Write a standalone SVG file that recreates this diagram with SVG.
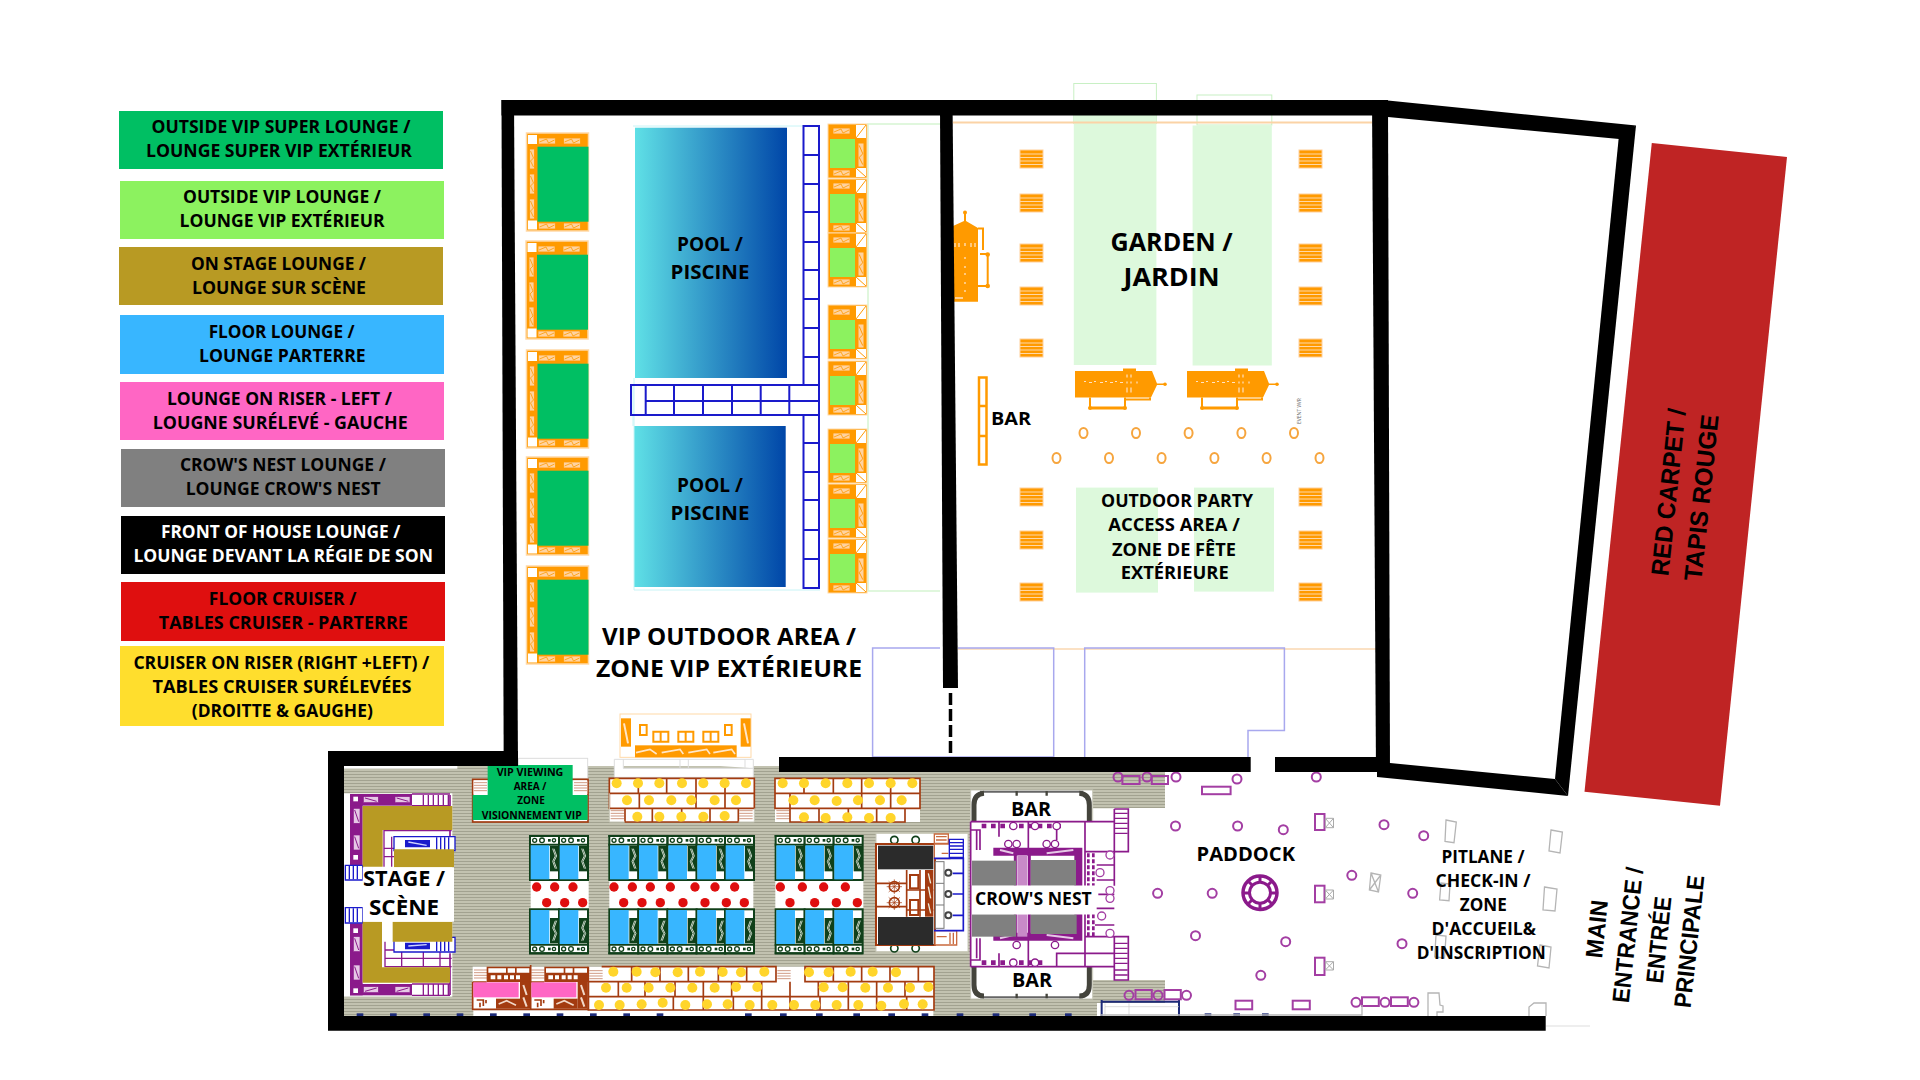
<svg xmlns="http://www.w3.org/2000/svg" xmlns:xlink="http://www.w3.org/1999/xlink" width="1920" height="1080" viewBox="0 0 1920 1080">
<style>
text{font-family:"Open Sans","Noto Sans",sans-serif;font-weight:700;fill:#000;text-anchor:middle}
.lg{font-size:18px}
.w{fill:#fff}
.rot{font-family:"Liberation Sans",Arial,sans-serif;font-weight:700}
.wall{fill:#000}
.o{fill:#ff9a00}
.z{fill:#ffd3a0;stroke:#ff9a00;stroke-width:.8}
.oc{fill:none;stroke:#f6a53e;stroke-width:2}
.pc{fill:none;stroke:#a33ea3;stroke-width:2}
.pr{fill:none;stroke:#a33ea3;stroke-width:2}
.br{fill:none;stroke:#a33b10;stroke-width:5}
.pu{fill:none;stroke:#8b1a8b;stroke-width:5}
.y{fill:#ffd52b}
.r{fill:#df0f0f}
.nv{fill:#1c2a78}
.ph{fill:#e6c8e6;stroke:#8b1a8b;stroke-width:2}
</style>
<defs>
<linearGradient id="pool" x1="0" x2="1" y1="0" y2="0"><stop offset="0" stop-color="#5fe0e6"/><stop offset="1" stop-color="#0046a8"/></linearGradient>
<pattern id="carpet" width="4" height="3" patternUnits="userSpaceOnUse"><rect width="4" height="3" fill="#c2c2b0"/><rect y="0" width="4" height="1" fill="#a2a290"/></pattern>
<g id="hz"><rect width="17" height="6" class="z"/><path d="M1 4L8 1L10 5L16 2" fill="none" stroke="#ff9a00" stroke-width=".8"/></g>
<g id="hv"><rect width="5" height="20" class="z"/><path d="M1 2L4 9L1 12L4 18" fill="none" stroke="#ff9a00" stroke-width=".8"/></g>
<g id="ul">
<rect x="0" y="0" width="62" height="98" class="o" stroke="#ffd9a8" stroke-width="1.5"/>
<rect x="1.500" y="2" width="9" height="9" fill="#fff"/><rect x="1.500" y="87.500" width="9" height="9" fill="#fff"/>
<use href="#hz" x="12" y="5"/><use href="#hz" x="37" y="5"/><use href="#hz" x="12" y="90"/><use href="#hz" x="37" y="90"/>
<use href="#hv" x="3" y="16"/><use href="#hv" x="3" y="41"/><use href="#hv" x="3" y="66"/>
<rect x="11" y="13.700" width="51" height="75" fill="#00bf63"/>
</g>
<g id="ur">
<rect x="0" y="0" width="39" height="54" class="o" stroke="#ffd9a8" stroke-width="1"/>
<rect x="28" y="1" width="10" height="13" fill="#fff"/><path d="M28 14L38 1" stroke="#ff9a00"/>
<rect x="28" y="44" width="10" height="9" fill="#fff"/><path d="M28 44L38 53" stroke="#ff9a00"/>
<use href="#hz" x="5" y="4"/><use href="#hz" x="5" y="46"/>
<use href="#hv" transform="translate(30 19) scale(1.2)"/>
<rect x="2" y="15" width="25" height="29" fill="#8cf25f"/>
</g>
<g id="bench"><rect width="23" height="18" class="o" stroke="#ffcf9a" stroke-width="1"/><path d="M0 4H23M0 7.500H23M0 11H23M0 14.500H23" stroke="#ffd8a8" stroke-width="1"/></g>
<g id="hb">
<path d="M1 2.500H49V0H62V2.500H78L83 15H91V16.500H83L77 29H1Z" class="o"/>
<circle cx="91" cy="15.700" r="1.800" class="o"/>
<path d="M10 13h2M15 14h3M20 13h2M26 14h3M31 13h2M36 14h3M41 13h2M46 14h3M53 6v3M57 6v3M53 13v2M57 13v2M53 19v5M57 19v5M63 13v2" stroke="#ffe2c2" stroke-width="1.200"/>
<path d="M16 29V39.500H51V29M51 31H76V29" fill="none" stroke="#ff9a00" stroke-width="2"/><path d="M16 39.500H51" stroke="#ff9a00" stroke-width="3"/>
<circle cx="16" cy="39.500" r="2" class="o"/><circle cx="51" cy="39.500" r="2" class="o"/>
</g>
<g id="fl">
<rect x="0" y="0" width="87" height="132" fill="#fff" stroke="#10401a" stroke-width="6"/>
<path d="M-3 0H87M-3 26H87" stroke="#10401a" stroke-width="6" fill="none"/>
<circle cx="14" cy="13" r="6" fill="none" stroke="#10401a" stroke-width="4"/><circle cx="36" cy="13" r="7" fill="none" stroke="#10401a" stroke-width="4"/><rect x="54" y="9" width="8" height="8" fill="#10401a"/><circle cx="72" cy="13" r="5" fill="none" stroke="#10401a" stroke-width="4"/>
<rect x="60" y="30" width="26" height="76" fill="#10401a"/><path d="M68 38L76 60L68 76L76 98M72 38L80 60L72 76L80 98" stroke="#c5d2c5" stroke-width="3" fill="none"/>
<rect x="2" y="28" width="56" height="102" fill="#38b6ff"/>
</g>
<g id="hatch"><rect width="40" height="40" fill="#fff"/><path d="M0 6H40M0 14H40M0 22H40M0 30H40" stroke="#d09a84" stroke-width="3"/></g>
<g id="riser">
<rect x="0" y="0" width="132" height="46" fill="#a33b10"/>
<path d="M5 5H58V18H5ZM63 5H85V18H63ZM90 5H128V18H90ZM12 26H26V38H12ZM32 26H44V38H32ZM52 26H64V38H52ZM70 26H82V38H70ZM88 26H100V38H88Z" fill="#fff"/>
<rect x="100" y="46" width="30" height="80" fill="#a33b10"/><path d="M110 55L120 85M110 92L120 120" stroke="#f2d8c8" stroke-width="6"/>
<rect x="28" y="96" width="72" height="30" fill="#a33b10"/><path d="M36 112L60 102L88 116" stroke="#f2d8c8" stroke-width="5" fill="none"/>
<path d="M-30 100H-10V118M-20 108V122M-2 100V110" stroke="#a33b10" stroke-width="5" fill="none"/>
</g>
</defs>
<rect width="1920" height="1080" fill="#fff"/>

<g id="legend">
<g id="lg1"><rect x="119" y="111" width="324" height="58" fill="#00bf63"/><text class="lg" x="281" y="133" textLength="259" lengthAdjust="spacingAndGlyphs">OUTSIDE VIP SUPER LOUNGE /</text><text class="lg" x="279" y="157" textLength="266" lengthAdjust="spacingAndGlyphs">LOUNGE SUPER VIP EXTÉRIEUR</text></g>
<g id="lg2"><rect x="120" y="181" width="324" height="58" fill="#8cf25f"/><text class="lg" x="282" y="203" textLength="198" lengthAdjust="spacingAndGlyphs">OUTSIDE VIP LOUNGE /</text><text class="lg" x="282" y="227" textLength="205" lengthAdjust="spacingAndGlyphs">LOUNGE VIP EXTÉRIEUR</text></g>
<g id="lg3"><rect x="119" y="247" width="324" height="58" fill="#b89a23"/><text class="lg" x="278.500" y="270" textLength="175" lengthAdjust="spacingAndGlyphs">ON STAGE LOUNGE /</text><text class="lg" x="279" y="294" textLength="174" lengthAdjust="spacingAndGlyphs">LOUNGE SUR SCÈNE</text></g>
<g id="lg4"><rect x="120" y="315" width="324" height="59" fill="#38b6ff"/><text class="lg" x="281.700" y="338" textLength="146" lengthAdjust="spacingAndGlyphs">FLOOR LOUNGE /</text><text class="lg" x="282.300" y="362" textLength="166.600" lengthAdjust="spacingAndGlyphs">LOUNGE PARTERRE</text></g>
<g id="lg5"><rect x="120" y="382" width="324" height="58" fill="#ff66c4"/><text class="lg" x="279.500" y="405" textLength="225" lengthAdjust="spacingAndGlyphs">LOUNGE ON RISER - LEFT /</text><text class="lg" x="280.200" y="429" textLength="255" lengthAdjust="spacingAndGlyphs">LOUGNE SURÉLEVÉ - GAUCHE</text></g>
<g id="lg6"><rect x="121" y="449" width="324" height="58" fill="#808080"/><text class="lg" x="282.900" y="471" textLength="206" lengthAdjust="spacingAndGlyphs">CROW'S NEST LOUNGE /</text><text class="lg" x="283.200" y="495" textLength="195" lengthAdjust="spacingAndGlyphs">LOUNGE CROW'S NEST</text></g>
<g id="lg7"><rect x="121" y="516" width="324" height="58" fill="#000"/><text class="lg w" x="280.700" y="538" textLength="239.500" lengthAdjust="spacingAndGlyphs">FRONT OF HOUSE LOUNGE /</text><text class="lg w" x="283.200" y="562" textLength="299.500" lengthAdjust="spacingAndGlyphs">LOUNGE DEVANT LA RÉGIE DE SON</text></g>
<g id="lg8"><rect x="121" y="582" width="324" height="59" fill="#df0f0f"/><text class="lg" x="282.600" y="605" textLength="147.600" lengthAdjust="spacingAndGlyphs">FLOOR CRUISER /</text><text class="lg" x="283.300" y="629" textLength="249" lengthAdjust="spacingAndGlyphs">TABLES CRUISER - PARTERRE</text></g>
<g id="lg9"><rect x="120" y="646" width="324" height="80" fill="#ffde2d"/><text class="lg" x="281.400" y="669" textLength="296" lengthAdjust="spacingAndGlyphs">CRUISER ON RISER (RIGHT +LEFT) /</text><text class="lg" x="282" y="693" textLength="259" lengthAdjust="spacingAndGlyphs">TABLES CRUISER SURÉLEVÉES</text><text class="lg" x="282.300" y="717" textLength="181" lengthAdjust="spacingAndGlyphs">(DROITTE &amp; GAUGHE)</text></g>
</g>

<g id="garden-ground">
<rect x="1073.800" y="83.500" width="82.600" height="40" fill="none" stroke="#c8f0c4" stroke-width="1"/>
<rect x="1197" y="95" width="74.800" height="30" fill="none" stroke="#c8f0c4" stroke-width="1"/>
<rect x="1073.800" y="115" width="82.600" height="250" fill="#ddf9dc"/>
<rect x="1192.600" y="125.500" width="79.200" height="240" fill="#ddf9dc"/>
<rect x="1076" y="487.600" width="82" height="105" fill="#ddf9dc"/>
<rect x="1194" y="487.600" width="80" height="104" fill="#ddf9dc"/>
<path d="M953 122.500H1372" stroke="#fbd3a6" stroke-width="2"/>
<path d="M958 649H1376" stroke="#f8c48a" stroke-width="1.200"/>
<path d="M872.600 757V648H940M958 648H1053.700V757H872.600M1084.700 757V648H1284.400V730.500H1248V757" fill="none" stroke="#a8a8ee" stroke-width="1.500"/>
<path d="M940 124H868V591H940" fill="none" stroke="#d6f5d2" stroke-width="1.500"/>
<path d="M633 126H820M633 385V426M634 378V590H820" fill="none" stroke="#c8f4f6" stroke-width="1"/>
</g>

<g id="pools">
<g id="pool-1"><rect x="635" y="127.700" width="152" height="250.300" fill="url(#pool)"/><text x="710" y="251" font-size="20" textLength="66" lengthAdjust="spacingAndGlyphs">POOL /</text><text x="710" y="279" font-size="20" textLength="79" lengthAdjust="spacingAndGlyphs">PISCINE</text></g>
<g id="pool-2"><rect x="634.400" y="426" width="151.300" height="161" fill="url(#pool)"/><text x="710" y="492" font-size="20" textLength="66" lengthAdjust="spacingAndGlyphs">POOL /</text><text x="710" y="520" font-size="20" textLength="79" lengthAdjust="spacingAndGlyphs">PISCINE</text></g>
<path id="walkway" d="M803.500 385V126H819V415M803.500 415V588H819V415M803.500 155H819M803.500 184H819M803.500 212H819M803.500 242H819M803.500 270H819M803.500 299H819M803.500 328H819M803.500 357H819M803.500 443H819M803.500 472H819M803.500 500H819M803.500 530H819M803.500 559H819M631 385H819V415H631ZM645.700 385V415M674 385V415M703 385V415M732 385V415M760.700 385V415M789.300 385V415M645.700 401H819" fill="none" stroke="#1a1acb" stroke-width="2"/>
</g>

<g id="super-lounges">
<use href="#ul" x="526.500" y="133"/><use href="#ul" x="526" y="241"/><use href="#ul" x="526.500" y="350"/><use href="#ul" x="526.500" y="457"/><use href="#ul" x="526.500" y="566"/>
</g>
<g id="vip-lounges">
<use href="#ur" x="828" y="124"/><use href="#ur" x="828" y="179"/><use href="#ur" x="828" y="233"/>
<use href="#ur" x="828" y="305"/><use href="#ur" x="828" y="361"/>
<use href="#ur" x="828" y="429"/><use href="#ur" x="828" y="484"/><use href="#ur" x="828" y="539"/>
</g>

<g id="garden-furniture">
<use href="#bench" x="1020" y="150"/><use href="#bench" x="1020" y="194"/><use href="#bench" x="1020" y="244"/><use href="#bench" x="1020" y="287"/><use href="#bench" x="1020" y="339"/><use href="#bench" x="1020" y="488"/><use href="#bench" x="1020" y="531"/><use href="#bench" x="1020" y="583"/>
<use href="#bench" x="1299" y="150"/><use href="#bench" x="1299" y="194"/><use href="#bench" x="1299" y="244"/><use href="#bench" x="1299" y="287"/><use href="#bench" x="1299" y="339"/><use href="#bench" x="1299" y="488"/><use href="#bench" x="1299" y="531"/><use href="#bench" x="1299" y="583"/>
<g>
<ellipse class="oc" cx="1083.500" cy="433" rx="4" ry="5"/><ellipse class="oc" cx="1136" cy="433" rx="4" ry="5"/><ellipse class="oc" cx="1188.600" cy="433" rx="4" ry="5"/><ellipse class="oc" cx="1241.400" cy="433" rx="4" ry="5"/><ellipse class="oc" cx="1294" cy="433" rx="4" ry="5"/>
<ellipse class="oc" cx="1056.500" cy="458" rx="4" ry="5"/><ellipse class="oc" cx="1109" cy="458" rx="4" ry="5"/><ellipse class="oc" cx="1161.600" cy="458" rx="4" ry="5"/><ellipse class="oc" cx="1214.400" cy="458" rx="4" ry="5"/><ellipse class="oc" cx="1266.600" cy="458" rx="4" ry="5"/><ellipse class="oc" cx="1319.500" cy="458" rx="4" ry="5"/>
</g>
<use href="#hb" x="1074" y="368.500"/><use href="#hb" x="1186" y="368.500"/>
<g id="tower"><path d="M953 226L964 221V213H966V221L978 228V301.700H953Z" class="o"/><circle cx="965" cy="212.500" r="2" class="o"/><path d="M965 257v2M965 266v2M965 273v2M965 282v2M965 290v2M955 243v4M959 243v4M965 243v3M971 243v4M975 243v4M955 298h8" stroke="#ffe2c2" stroke-width="1.300"/><path d="M978 228.500H983V250M980 254H987.700V286H978" fill="none" stroke="#ff9a00" stroke-width="2"/><circle cx="987.700" cy="254.500" r="2.300" class="o"/><circle cx="987.700" cy="286" r="2.300" class="o"/></g>
<g id="bar-garden"><rect x="979" y="377.500" width="7.500" height="87" fill="#fff" stroke="#ff9a00" stroke-width="2.500"/><path d="M979 406H987M979 436H987" stroke="#ff9a00" stroke-width="2.500"/><text x="1011" y="425" font-size="18" textLength="40" lengthAdjust="spacingAndGlyphs">BAR</text></g>
<text x="1301" y="411" font-size="5" transform="rotate(-90 1301 411)" style="fill:#666;font-weight:400">EVENT  W/R</text>
</g>

<g id="labels-outdoor">
<text x="729" y="645" font-size="24" textLength="254" lengthAdjust="spacingAndGlyphs">VIP OUTDOOR AREA /</text>
<text x="729" y="677" font-size="24" textLength="266" lengthAdjust="spacingAndGlyphs">ZONE VIP EXTÉRIEURE</text>
<text x="1171.600" y="251" font-size="25" textLength="122" lengthAdjust="spacingAndGlyphs">GARDEN /</text>
<text x="1171.600" y="286" font-size="25" textLength="96" lengthAdjust="spacingAndGlyphs">JARDIN</text>
<text x="1177" y="506.500" font-size="18" textLength="152" lengthAdjust="spacingAndGlyphs">OUTDOOR PARTY</text>
<text x="1174" y="531" font-size="18" textLength="131.500" lengthAdjust="spacingAndGlyphs">ACCESS AREA /</text>
<text x="1174" y="555.500" font-size="18" textLength="124" lengthAdjust="spacingAndGlyphs">ZONE DE FÊTE</text>
<text x="1174.700" y="579" font-size="18" textLength="108" lengthAdjust="spacingAndGlyphs">EXTÉRIEURE</text>
</g>

<g id="hall">
<path id="hall-floor" d="M344 766H1165V808H1114V980H1165V1003H1097V1016H344Z" fill="url(#carpet)"/>
<g id="hall-plan" transform="translate(320 740) scale(.33333)">
<g id="stage">
<rect x="72" y="160" width="325" height="610" fill="#fff"/>
<rect x="72" y="78" width="340" height="8" fill="#fff"/>
<path d="M390 165V290M390 640V765" class="pu"/>
<rect x="90" y="162" width="38" height="216" fill="#8b1a8b"/><rect x="90" y="162" width="186" height="35" fill="#8b1a8b"/>
<rect x="90" y="550" width="38" height="216" fill="#8b1a8b"/><rect x="90" y="732" width="186" height="34" fill="#8b1a8b"/>
<rect class="ph" x="130" y="170" width="45" height="18"/><rect class="ph" x="225" y="170" width="45" height="18"/><rect class="ph" x="100" y="205" width="20" height="45"/><rect class="ph" x="100" y="285" width="20" height="45"/><rect class="ph" x="130" y="740" width="45" height="18"/><rect class="ph" x="225" y="740" width="45" height="18"/><rect class="ph" x="100" y="590" width="20" height="45"/><rect class="ph" x="100" y="675" width="20" height="45"/>
<path d="M135 174L170 184M230 174L265 184M135 754L170 744M230 754L265 744M104 210L116 245M104 290L116 325M104 595L116 630M104 680L116 715" stroke="#8b1a8b" stroke-width="3"/>
<rect x="100" y="170" width="14" height="14" fill="#fff"/><rect x="100" y="345" width="14" height="14" fill="#fff"/><rect x="100" y="745" width="14" height="14" fill="#fff"/><rect x="100" y="565" width="14" height="14" fill="#fff"/>
<path d="M276 162H390M276 197H390M276 732H390M276 766H390M310 165V197M325 165V197M340 165V197M355 165V197M370 165V197M385 165V197M310 730V765M325 730V765M340 730V765M355 730V765M370 730V765M385 730V765" stroke="#8b1a8b" stroke-width="4"/>
<path d="M192 380V272H395M215 290V380M192 325H222M192 350H222M195 605V680H395M195 630H395M195 655H395M245 630V680M310 630V680M360 630V680" fill="none" stroke="#8b1a8b" stroke-width="4"/>
<path d="M222 290H405V332H222ZM222 592H405V636H222Z" fill="#fff" stroke="#1a1acb" stroke-width="4"/>
<path d="M255 300H330V322H255ZM255 608H330V628H255Z" fill="#1a1acb"/>
<path d="M265 306L320 316M265 618L320 614" stroke="#cfd2ff" stroke-width="4"/>
<path d="M350 292V330M362 292V330M374 292V330M386 292V330M350 594V634M362 594V634M374 594V634M386 594V634" stroke="#1a1acb" stroke-width="4"/>
<path d="M76 376H128V420H76ZM76 503H128V549H76Z" fill="#fff" stroke="#1a1acb" stroke-width="4"/>
<path d="M88 378V418M100 378V418M112 378V418M88 505V547M100 505V547M112 505V547" stroke="#1a1acb" stroke-width="4"/>
<path d="M128 198H397V270H188V380H128ZM222 328H402V382H222ZM218 545H397V605H218ZM128 545H186V682H390V728H128Z" fill="#b89a23"/>
<rect x="128" y="382" width="274" height="163" fill="#fff"/>
</g>
<g id="vip-viewing">
<rect x="595" y="55" width="208" height="60" fill="#fff" stroke="#ddd" stroke-width="3"/>
<rect x="458" y="118" width="346" height="128" fill="#fff" stroke="#a33b10" stroke-width="5"/>
<use href="#hatch" x="461" y="122"/><use href="#hatch" x="762" y="122"/>
<path d="M503 75H758V165H803V240H458V165H503Z" fill="#00bf63"/>
</g>
<g id="orange-stage">
<rect x="900" y="-78" width="393" height="130" fill="#fff" stroke="#ffd9a8" stroke-width="3"/>
<rect x="945" y="16" width="305" height="36" fill="#ff9a00"/>
<path d="M948 38L990 28L1010 42M1025 38L1080 28L1090 42M1105 38L1160 28L1170 42M1180 38L1235 28L1245 42" fill="none" stroke="#ffe6c8" stroke-width="5"/>
<rect x="903" y="-65" width="30" height="85" fill="#ff9a00"/><rect x="1262" y="-65" width="30" height="85" fill="#ff9a00"/>
<path d="M912 -50L924 10M1272 -50L1284 10" stroke="#ffe6c8" stroke-width="6"/>
<rect x="960" y="-45" width="20" height="30" fill="#fff" stroke="#ff9a00" stroke-width="6"/><rect x="1215" y="-45" width="20" height="30" fill="#fff" stroke="#ff9a00" stroke-width="6"/>
<path d="M1000 -25H1045V5H1000ZM1075 -25H1120V5H1075ZM1150 -25H1195V5H1150ZM1022 -25V5M1097 -25V5M1172 -25V5" fill="#fff" stroke="#ff9a00" stroke-width="6"/>
<path d="M883 58H1300V112H883ZM910 58V85H1300M1080 58V85M1105 58V85M1275 58V85" fill="#fff" stroke="#ddd" stroke-width="3"/>
</g>
<g id="cruiser-top-1">
<rect x="868" y="115" width="435" height="131" fill="#fff"/>
<use href="#hatch" x="872" y="206"/><use href="#hatch" x="1258" y="206"/>
<path class="br" d="M868 160V115H1303V205H868V160H1303M955 115V160M1040 115V160M1128 115V205M1215 115V205M958 160V205M915 205V246H1255V205M997 205V246M1085 205V246M1170 205V246"/>
<path d="M868 160V246H915M1303 205V246H1255" fill="none" stroke="#c8c8b8" stroke-width="3"/>
<circle class="y" cx="890" cy="130" r="15"/><circle class="y" cx="954" cy="130" r="15"/><circle class="y" cx="1018" cy="130" r="15"/><circle class="y" cx="1086" cy="130" r="15"/><circle class="y" cx="1150" cy="130" r="15"/><circle class="y" cx="1214" cy="130" r="15"/><circle class="y" cx="1278" cy="130" r="15"/>
<circle class="y" cx="921" cy="181" r="15"/><circle class="y" cx="987" cy="181" r="15"/><circle class="y" cx="1054" cy="181" r="15"/><circle class="y" cx="1114" cy="181" r="15"/><circle class="y" cx="1184" cy="181" r="15"/><circle class="y" cx="1248" cy="181" r="15"/>
<circle class="y" cx="952" cy="230" r="15"/><circle class="y" cx="1018" cy="230" r="15"/><circle class="y" cx="1084" cy="230" r="15"/><circle class="y" cx="1150" cy="230" r="15"/><circle class="y" cx="1214" cy="228" r="15"/>
</g>
<g id="cruiser-top-2">
<rect x="1365" y="115" width="435" height="131" fill="#fff"/>
<use href="#hatch" x="1369" y="206"/>
<path class="br" d="M1365 160V115H1800V205H1365V160H1800M1452 115V160M1540 115V160M1625 115V205M1712 115V205M1410 160V205M1410 205V246H1755V205M1497 205V246M1585 205V246M1670 205V246"/>
<circle class="y" cx="1388" cy="130" r="15"/><circle class="y" cx="1452" cy="130" r="15"/><circle class="y" cx="1517" cy="130" r="15"/><circle class="y" cx="1582" cy="130" r="15"/><circle class="y" cx="1647" cy="130" r="15"/><circle class="y" cx="1712" cy="130" r="15"/><circle class="y" cx="1777" cy="130" r="15"/>
<circle class="y" cx="1420" cy="181" r="15"/><circle class="y" cx="1484" cy="181" r="15"/><circle class="y" cx="1550" cy="183" r="15"/><circle class="y" cx="1614" cy="181" r="15"/><circle class="y" cx="1680" cy="181" r="15"/><circle class="y" cx="1745" cy="181" r="15"/>
<circle class="y" cx="1452" cy="232" r="15"/><circle class="y" cx="1517" cy="234" r="15"/><circle class="y" cx="1582" cy="232" r="15"/><circle class="y" cx="1647" cy="234" r="15"/><circle class="y" cx="1712" cy="234" r="15"/>
</g>
<g id="floor-lounges">
<rect x="632" y="420" width="174" height="85" fill="#fff"/><rect x="868" y="420" width="432" height="85" fill="#fff"/><rect x="1366" y="420" width="264" height="85" fill="#fff"/>
<use href="#fl" x="630" y="288"/><use href="#fl" x="717" y="288"/>
<use href="#fl" transform="translate(630 640) scale(1 -1)"/><use href="#fl" transform="translate(717 640) scale(1 -1)"/>
<use href="#fl" x="868" y="288"/><use href="#fl" x="955" y="288"/><use href="#fl" x="1043" y="288"/><use href="#fl" x="1130" y="288"/><use href="#fl" x="1215" y="288"/>
<use href="#fl" transform="translate(868 640) scale(1 -1)"/><use href="#fl" transform="translate(955 640) scale(1 -1)"/><use href="#fl" transform="translate(1043 640) scale(1 -1)"/><use href="#fl" transform="translate(1130 640) scale(1 -1)"/><use href="#fl" transform="translate(1215 640) scale(1 -1)"/>
<use href="#fl" x="1367" y="288"/><use href="#fl" x="1454" y="288"/><use href="#fl" x="1541" y="288"/>
<use href="#fl" transform="translate(1367 640) scale(1 -1)"/><use href="#fl" transform="translate(1454 640) scale(1 -1)"/><use href="#fl" transform="translate(1541 640) scale(1 -1)"/>
<g>
<circle class="r" cx="650" cy="441" r="14"/><circle class="r" cx="704" cy="441" r="14"/><circle class="r" cx="759" cy="441" r="14"/><circle class="r" cx="680" cy="488" r="14"/><circle class="r" cx="734" cy="488" r="14"/><circle class="r" cx="788" cy="488" r="14"/>
<circle class="r" cx="882" cy="441" r="14"/><circle class="r" cx="937" cy="441" r="14"/><circle class="r" cx="991" cy="441" r="14"/><circle class="r" cx="1051" cy="441" r="14"/><circle class="r" cx="1125" cy="441" r="14"/><circle class="r" cx="1185" cy="441" r="14"/><circle class="r" cx="1244" cy="441" r="14"/>
<circle class="r" cx="911" cy="488" r="14"/><circle class="r" cx="966" cy="488" r="14"/><circle class="r" cx="1021" cy="488" r="14"/><circle class="r" cx="1089" cy="488" r="14"/><circle class="r" cx="1155" cy="488" r="14"/><circle class="r" cx="1219" cy="488" r="14"/><circle class="r" cx="1273" cy="488" r="14"/>
<circle class="r" cx="1381" cy="441" r="14"/><circle class="r" cx="1447" cy="441" r="14"/><circle class="r" cx="1511" cy="441" r="14"/><circle class="r" cx="1576" cy="441" r="14"/>
<circle class="r" cx="1410" cy="488" r="14"/><circle class="r" cx="1484" cy="488" r="14"/><circle class="r" cx="1549" cy="488" r="14"/><circle class="r" cx="1612" cy="488" r="14"/>
</g>
</g>
<g id="risers-bottom">
<rect x="458" y="680" width="1384" height="132" fill="#fff"/>
<rect x="460" y="812" width="1380" height="16" fill="#fff"/>
<use href="#hatch" x="462" y="684"/><use href="#hatch" x="808" y="686"/><use href="#hatch" x="634" y="684"/><use href="#hatch" x="1372" y="686"/>
<use href="#riser" x="500" y="680"/><use href="#riser" x="673" y="680"/>
<path class="br" d="M458 726V808H805V680M632 675V808M458 726H500M632 726H673" stroke-width="6"/>
<rect x="460" y="727" width="136" height="45" fill="#ff66c4"/><rect x="634" y="727" width="135" height="45" fill="#ff66c4"/>
<path class="br" d="M845 680H1368V725H805V810H1842V680H1455V725H1842M935 680V725M1020 680V725M1105 680V725M1195 680V725M1280 680V725M1368 680V725M895 725V770M975 725V770M1065 725V770M1150 725V810M1235 725V770M1325 725V810M1060 770V810M1240 770V810M1410 725V810M805 770H1410M1410 770H1842M1495 725V770M1585 725V810M1670 725V770M1755 725V770M1540 680V725M1625 680V725M1710 680V725M1795 680V725M1500 770V810M1670 770V810M1760 770V810"/>
<g>
<circle class="y" cx="880" cy="695" r="15"/><circle class="y" cx="950" cy="695" r="15"/><circle class="y" cx="1006" cy="697" r="15"/><circle class="y" cx="1073" cy="697" r="15"/><circle class="y" cx="1140" cy="695" r="15"/><circle class="y" cx="1208" cy="696" r="15"/><circle class="y" cx="1263" cy="697" r="15"/><circle class="y" cx="1333" cy="695" r="15"/><circle class="y" cx="1467" cy="697" r="15"/><circle class="y" cx="1526" cy="697" r="15"/><circle class="y" cx="1592" cy="695" r="15"/><circle class="y" cx="1658" cy="695" r="15"/><circle class="y" cx="1728" cy="697" r="15"/>
<circle class="y" cx="858" cy="743" r="15"/><circle class="y" cx="920" cy="743" r="15"/><circle class="y" cx="986" cy="743" r="15"/><circle class="y" cx="1051" cy="743" r="15"/><circle class="y" cx="1117" cy="743" r="15"/><circle class="y" cx="1184" cy="743" r="15"/><circle class="y" cx="1248" cy="741" r="15"/><circle class="y" cx="1312" cy="741" r="15"/><circle class="y" cx="1511" cy="742" r="15"/><circle class="y" cx="1568" cy="742" r="15"/><circle class="y" cx="1636" cy="743" r="15"/><circle class="y" cx="1704" cy="743" r="15"/><circle class="y" cx="1770" cy="743" r="15"/><circle class="y" cx="1825" cy="741" r="15"/>
<circle class="y" cx="837" cy="795" r="15"/><circle class="y" cx="899" cy="795" r="15"/><circle class="y" cx="965" cy="793" r="15"/><circle class="y" cx="1028" cy="788" r="15"/><circle class="y" cx="1096" cy="795" r="15"/><circle class="y" cx="1161" cy="793" r="15"/><circle class="y" cx="1223" cy="793" r="15"/><circle class="y" cx="1289" cy="795" r="15"/><circle class="y" cx="1357" cy="795" r="15"/><circle class="y" cx="1422" cy="795" r="15"/><circle class="y" cx="1486" cy="795" r="15"/><circle class="y" cx="1550" cy="795" r="15"/><circle class="y" cx="1615" cy="795" r="15"/><circle class="y" cx="1684" cy="797" r="15"/><circle class="y" cx="1752" cy="792" r="15"/><circle class="y" cx="1808" cy="793" r="15"/>
</g>
<g class="nv"><rect x="110" y="820" width="20" height="8"/><rect x="210" y="820" width="20" height="8"/><rect x="310" y="820" width="20" height="8"/><rect x="410" y="820" width="20" height="8"/><rect x="510" y="820" width="20" height="8"/><rect x="610" y="820" width="20" height="8"/><rect x="710" y="820" width="20" height="8"/><rect x="810" y="820" width="20" height="8"/><rect x="910" y="820" width="20" height="8"/><rect x="1010" y="820" width="20" height="8"/><rect x="1275" y="820" width="20" height="8"/><rect x="1380" y="820" width="20" height="8"/><rect x="1488" y="820" width="20" height="8"/><rect x="1600" y="820" width="20" height="8"/><rect x="1705" y="820" width="20" height="8"/><rect x="1805" y="820" width="20" height="8"/><rect x="1910" y="820" width="20" height="8"/><rect x="2018" y="820" width="20" height="8"/><rect x="2128" y="820" width="20" height="8"/><rect x="2235" y="820" width="20" height="8"/><rect x="2654" y="820" width="20" height="8"/><rect x="2740" y="820" width="20" height="8"/><rect x="2826" y="820" width="20" height="8"/></g>
</g>
<g transform="translate(1380 0)">
<g id="foh">
<rect x="288" y="280" width="276" height="355" fill="#fff" stroke="#c8c8b8" stroke-width="3"/>
<circle cx="343" cy="300" r="11" fill="none" stroke="#10401a" stroke-width="5"/><circle cx="407" cy="300" r="11" fill="none" stroke="#10401a" stroke-width="5"/><circle cx="343" cy="625" r="11" fill="none" stroke="#10401a" stroke-width="5"/><circle cx="407" cy="625" r="11" fill="none" stroke="#10401a" stroke-width="5"/>
<rect x="288" y="312" width="177" height="303" fill="#fff" stroke="#a33b10" stroke-width="6"/>
<path class="br" d="M290 430H380M290 500H380M380 390V530M420 390V530M380 450H460M380 510H460" stroke-width="4"/>
<rect x="390" y="405" width="25" height="40" fill="none" stroke="#a33b10" stroke-width="6"/><rect x="390" y="480" width="25" height="45" fill="none" stroke="#a33b10" stroke-width="6"/>
<circle cx="343" cy="440" r="15" fill="none" stroke="#a33b10" stroke-width="5"/><circle cx="343" cy="488" r="15" fill="none" stroke="#a33b10" stroke-width="5"/>
<path d="M343 418V462M320 440H366M326 424L360 456M360 424L326 456M343 466V510M320 488H366M326 472L360 504M360 472L326 504" stroke="#a33b10" stroke-width="2"/>
<rect x="435" y="390" width="25" height="140" fill="#a33b10"/><path d="M445 400L452 430M445 440L452 475M445 490L452 520" stroke="#eed" stroke-width="4"/>
<rect x="294" y="317" width="166" height="71" fill="#2b2b2b"/><rect x="294" y="531" width="166" height="84" fill="#2b2b2b"/>
<path d="M463 282H505V310H463ZM463 312H510V356H463ZM465 572H530V615H465Z" fill="#fff" stroke="#c96a3e" stroke-width="4"/>
<path d="M468 290H500M468 300H500M510 578V612M520 578V612M485 340H505M470 590H500" stroke="#c96a3e" stroke-width="4"/>
<path d="M508 298H550V352H508ZM508 308H550M508 318H550M508 328H550M508 340H550" fill="#fff" stroke="#1a1acb" stroke-width="4"/>
<path d="M462 355H550V572H462M518 400H550M518 462H550M518 526H550" fill="none" stroke="#1a1acb" stroke-width="5"/>
<rect x="466" y="365" width="26" height="200" fill="#fff" stroke="#777" stroke-width="3"/><path d="M466 430H492M466 495H492" stroke="#777" stroke-width="3"/>
<circle cx="505" cy="398" r="9" fill="#fff" stroke="#444" stroke-width="6"/><circle cx="505" cy="462" r="9" fill="#fff" stroke="#444" stroke-width="6"/><circle cx="505" cy="526" r="9" fill="#fff" stroke="#444" stroke-width="6"/>
</g>
<g id="crows-nest">
<rect x="570" y="205" width="480" height="515" fill="#fff"/>
<rect x="572" y="150" width="366" height="95" fill="#fff" stroke="#c8c8b8" stroke-width="3"/>
<rect x="572" y="680" width="366" height="97" fill="#fff" stroke="#c8c8b8" stroke-width="3"/>
<path d="M600 155H910M600 772H910" stroke="#666" stroke-width="6"/>
<path d="M582 245V195Q582 162 612 160M928 245V195Q928 162 898 160M582 680V735Q582 768 612 768M928 680V735Q928 768 898 768" fill="none" stroke="#44443c" stroke-width="15"/>
<path d="M710 153V167M800 153V167M710 775V761M800 775V761" stroke="#44443c" stroke-width="7"/>
<path class="pu" d="M572 245H1003M572 680H1003M572 245V680M915 245V335M1003 207V335M915 335H1045V207H1003M657 245V290M745 245V325M830 245V300M572 270H600V330M590 270V330M1003 590V720H1045V590H1003M830 680V640H1003M915 590V680M745 680V600M657 640V680M572 660H600V595M590 595V655M915 335V437M915 523V600M915 590H1045M1003 335V437M950 375H1003M950 420H1003M955 463H1003M945 505H1003M945 555H1003M915 590H1003" stroke-width="6"/>
<path d="M1005 220H1043M1005 235H1043M1005 250H1043M1005 265H1043M1005 280H1043M1005 610H1043M1005 625H1043M1005 640H1043M1005 655H1043M1005 670H1043M1005 690H1043M1005 705H1043" stroke="#8b1a8b" stroke-width="4"/>
<path d="M605 258H855M605 668H795" stroke="#8b1a8b" stroke-width="14" stroke-dasharray="14 14" fill="none"/>
<path d="M640 335H895V437M640 590H895V523" fill="none" stroke="#8b1a8b" stroke-width="24"/>
<path d="M660 330L700 340M800 340L880 330M660 595L700 585M800 585L880 595" stroke="#e6c8e6" stroke-width="6"/>
<path d="M706 345V437M706 523V590M748 345V437M748 523V590" stroke="#8b1a8b" stroke-width="9"/>
<rect x="712" y="345" width="30" height="92" fill="#c88ac8"/><rect x="712" y="523" width="30" height="67" fill="#c88ac8"/>
<path d="M925 340V437M940 340V437M925 523V590M940 523V590" stroke="#8b1a8b" stroke-width="8" stroke-dasharray="12 6"/>
<circle cx="685" cy="312" r="11" fill="#fff" stroke="#8b1a8b" stroke-width="4"/><circle cx="710" cy="312" r="11" fill="#fff" stroke="#8b1a8b" stroke-width="4"/><circle cx="800" cy="312" r="11" fill="#fff" stroke="#8b1a8b" stroke-width="4"/><circle cx="825" cy="312" r="11" fill="#fff" stroke="#8b1a8b" stroke-width="4"/><circle cx="710" cy="615" r="11" fill="#fff" stroke="#8b1a8b" stroke-width="4"/><circle cx="825" cy="615" r="11" fill="#fff" stroke="#8b1a8b" stroke-width="4"/><circle cx="700" cy="258" r="11" fill="#fff" stroke="#8b1a8b" stroke-width="4"/><circle cx="765" cy="258" r="11" fill="#fff" stroke="#8b1a8b" stroke-width="4"/><circle cx="830" cy="258" r="11" fill="#fff" stroke="#8b1a8b" stroke-width="4"/><circle cx="700" cy="668" r="11" fill="#fff" stroke="#8b1a8b" stroke-width="4"/><circle cx="765" cy="668" r="11" fill="#fff" stroke="#8b1a8b" stroke-width="4"/>
<circle cx="990" cy="345" r="12" fill="#fff" stroke="#a33ea3" stroke-width="4"/><circle cx="960" cy="398" r="12" fill="#fff" stroke="#a33ea3" stroke-width="4"/><circle cx="990" cy="452" r="12" fill="#fff" stroke="#a33ea3" stroke-width="4"/><circle cx="990" cy="475" r="12" fill="#fff" stroke="#a33ea3" stroke-width="4"/><circle cx="965" cy="528" r="12" fill="#fff" stroke="#a33ea3" stroke-width="4"/><circle cx="990" cy="580" r="12" fill="#fff" stroke="#a33ea3" stroke-width="4"/>
<rect x="576" y="362" width="132" height="75" fill="#808080"/><rect x="752" y="360" width="136" height="77" fill="#808080"/><rect x="576" y="523" width="132" height="67" fill="#808080"/><rect x="752" y="523" width="138" height="59" fill="#808080"/>
<rect x="576" y="437" width="374" height="86" fill="#fff"/>
</g>
<path id="navy-frame" d="M965 785H1200M965 780V828M1197 780V828" fill="none" stroke="#1c2a78" stroke-width="6"/>
<path d="M975 790V828M1047 790V828M975 800H1197" stroke="#ccc" stroke-width="2" fill="none"/>
</g>
</g>
<g id="hall-labels">
<text x="404" y="886" font-size="21.500" textLength="82" lengthAdjust="spacingAndGlyphs">STAGE /</text>
<text x="404" y="915" font-size="21.500" textLength="70" lengthAdjust="spacingAndGlyphs">SCÈNE</text>
<text x="530" y="776" font-size="10" textLength="66.700" lengthAdjust="spacingAndGlyphs">VIP  VIEWING</text>
<text x="530" y="790" font-size="10">AREA /</text>
<text x="531" y="804" font-size="10">ZONE</text>
<text x="531.700" y="819" font-size="10" textLength="100" lengthAdjust="spacingAndGlyphs">VISIONNEMENT VIP</text>
<text x="1031" y="816" font-size="19.500" textLength="40" lengthAdjust="spacingAndGlyphs">BAR</text>
<text x="1032" y="987" font-size="19.500" textLength="40" lengthAdjust="spacingAndGlyphs">BAR</text>
<text x="1033.400" y="905" font-size="17" textLength="116.700" lengthAdjust="spacingAndGlyphs">CROW'S NEST</text>
</g>
</g>

<g id="paddock">
<circle class="pc" cx="1118" cy="777" r="4.500"/><circle class="pc" cx="1147" cy="777" r="4.500"/><circle class="pc" cx="1176" cy="777" r="4.500"/><circle class="pc" cx="1237" cy="779" r="4.500"/><circle class="pc" cx="1316.300" cy="777" r="4.500"/>
<circle class="pc" cx="1175.500" cy="826" r="4.500"/><circle class="pc" cx="1237.600" cy="826" r="4.500"/><circle class="pc" cx="1283.300" cy="829.700" r="4.500"/><circle class="pc" cx="1384" cy="824.700" r="4.500"/><circle class="pc" cx="1423.700" cy="835.700" r="4.500"/><circle class="pc" cx="1351.800" cy="875.300" r="4.500"/><circle class="pc" cx="1412.700" cy="893.300" r="4.500"/><circle class="pc" cx="1157.600" cy="893.300" r="4.500"/><circle class="pc" cx="1212.200" cy="893.300" r="4.500"/><circle class="pc" cx="1195.500" cy="935.700" r="4.500"/><circle class="pc" cx="1285.700" cy="941.700" r="4.500"/><circle class="pc" cx="1402" cy="943.700" r="4.500"/><circle class="pc" cx="1260.800" cy="975.300" r="4.500"/><circle class="pc" cx="1129" cy="995.300" r="4.500"/><circle class="pc" cx="1158" cy="995.300" r="4.500"/><circle class="pc" cx="1186.500" cy="995.300" r="4.500"/><circle class="pc" cx="1356" cy="1002.300" r="4.500"/><circle class="pc" cx="1385" cy="1002.300" r="4.500"/><circle class="pc" cx="1413.900" cy="1002.300" r="4.500"/>
<rect class="pr" x="1122.400" y="776" width="17.200" height="8"/><rect class="pr" x="1151.800" y="776" width="16.200" height="8"/><rect class="pr" x="1202" y="786.700" width="28.600" height="7.500"/><rect class="pr" x="1135.500" y="990" width="16.300" height="9.300"/><rect class="pr" x="1164.500" y="990" width="16.300" height="9.300"/><rect class="pr" x="1235.500" y="1000.700" width="16.700" height="8.600"/><rect class="pr" x="1292.700" y="1000.700" width="17.100" height="8.600"/><rect class="pr" x="1362" y="997.300" width="16.800" height="8.700"/><rect class="pr" x="1391" y="997.300" width="16.800" height="8.700"/>
<rect class="pr" x="1315" y="814" width="9.500" height="16"/><rect class="pr" x="1315" y="885.700" width="9.500" height="16.600"/><rect class="pr" x="1315" y="957.700" width="9.500" height="17.300"/>
<g fill="none" stroke="#aaa" stroke-width="1"><path d="M1325.300 818.300h8.200v9.400h-8.200zM1325.300 818.300l8.200 9.400M1333.500 818.300l-8.200 9.400M1325.300 890h8.200v9h-8.200zM1325.300 890l8.200 9M1333.500 890l-8.200 9M1325.300 961.700h8.200v8.300h-8.200zM1325.300 961.700l8.200 8.300M1333.500 961.700l-8.200 8.300"/></g>
<g fill="none" stroke="#b5b5b5" stroke-width="1.300"><path d="M1446 820L1456.300 822L1454 842.700L1445 841.500ZM1551 830L1562.400 832L1560 853L1549 851ZM1371 873L1380.800 875L1378.500 892L1369.400 890ZM1371 873L1378.500 892M1380.800 875L1369.400 890M1441 883L1450 884L1449 900.700L1439.600 900ZM1544.500 887L1557 889L1555 911L1543 910ZM1436 935L1446 936L1444.500 958L1434.700 957ZM1540 945L1551 947L1549 968L1537.500 966ZM1428 1016V993L1439 993L1440 1005L1443 1006V1012H1437V1016M1529 1016V1007L1534 1003H1546V1016M1100 1015H1362V1005"/></g>
<path d="M1546 1026H1590" stroke="#ddd" stroke-width="1"/>
<g id="roundel"><ellipse cx="1260" cy="892.700" rx="17" ry="16.700" fill="none" stroke="#8b1a8b" stroke-width="3.500"/><ellipse cx="1260" cy="892.700" rx="10.500" ry="10.500" fill="none" stroke="#8b1a8b" stroke-width="3"/><path d="M1260 876V882M1260 903V909M1243 893H1250M1270 893H1277M1248 881L1252 885M1272 881L1268 885M1248 904L1252 900M1272 904L1268 900" stroke="#8b1a8b" stroke-width="3"/></g>
<text x="1245.800" y="861" font-size="20" textLength="98.400" lengthAdjust="spacingAndGlyphs">PADDOCK</text>
<text x="1483" y="862.500" font-size="18" textLength="83" lengthAdjust="spacingAndGlyphs">PITLANE /</text>
<text x="1483" y="886.500" font-size="18" textLength="95" lengthAdjust="spacingAndGlyphs">CHECK-IN /</text>
<text x="1483.300" y="910.500" font-size="18" textLength="47" lengthAdjust="spacingAndGlyphs">ZONE</text>
<text x="1483.700" y="934.500" font-size="18" textLength="104.500" lengthAdjust="spacingAndGlyphs">D'ACCUEIL&amp;</text>
<text x="1481.200" y="958.500" font-size="18" textLength="129" lengthAdjust="spacingAndGlyphs">D'INSCRIPTION</text>
</g>

<g id="walls">
<path class="wall" d="M501.500 100H1383V115.500H501.500Z"/>
<path class="wall" d="M501.500 100H514L518 766H503.700Z"/>
<path class="wall" d="M328 751H518V766H344V1016H1545.700V1030.700H328Z"/>
<path class="wall" d="M940 110H952.600L958 688H943Z"/>
<path class="wall" d="M1372 100H1388L1390 772H1376Z"/>
<path class="wall" d="M1383 100L1636 125.500L1619 139L1388 117Z"/>
<path class="wall" d="M1619 135L1636 125.500L1568 796L1555 779Z"/>
<path class="wall" d="M1377 763L1390 763L1555 779L1568 796L1377 777Z"/>
<path class="wall" d="M779 757H1250.700V772H779ZM1275 757H1380V772H1275Z"/>
<path d="M950.500 693V754" stroke="#000" stroke-width="3.500" stroke-dasharray="12 4" fill="none"/>
</g>

<g id="red-carpet">
<path d="M1651.800 143L1787 157L1720 805.700L1584.500 791.700Z" fill="#bf2424"/>
<text class="rot" x="1668" y="492" dy="9" font-size="25" textLength="168" lengthAdjust="spacingAndGlyphs" transform="rotate(-84 1668 492)">RED CARPET /</text>
<text class="rot" x="1701" y="497.500" dy="9" font-size="25" textLength="167" lengthAdjust="spacingAndGlyphs" transform="rotate(-84 1701 497.500)">TAPIS ROUGE</text>
</g>
<g id="main-entrance">
<text class="rot" x="1597" y="929" dy="8" font-size="24" textLength="58" lengthAdjust="spacingAndGlyphs" transform="rotate(-84 1597 929)">MAIN</text>
<text class="rot" x="1628" y="935" dy="8" font-size="24" textLength="136" lengthAdjust="spacingAndGlyphs" transform="rotate(-84 1628 935)">ENTRANCE /</text>
<text class="rot" x="1659" y="940" dy="8" font-size="24" textLength="87" lengthAdjust="spacingAndGlyphs" transform="rotate(-84 1659 940)">ENTRÉE</text>
<text class="rot" x="1689.500" y="941.500" dy="8" font-size="24" textLength="133" lengthAdjust="spacingAndGlyphs" transform="rotate(-84 1689.500 941.500)">PRINCIPALE</text>
</g>
</svg>
